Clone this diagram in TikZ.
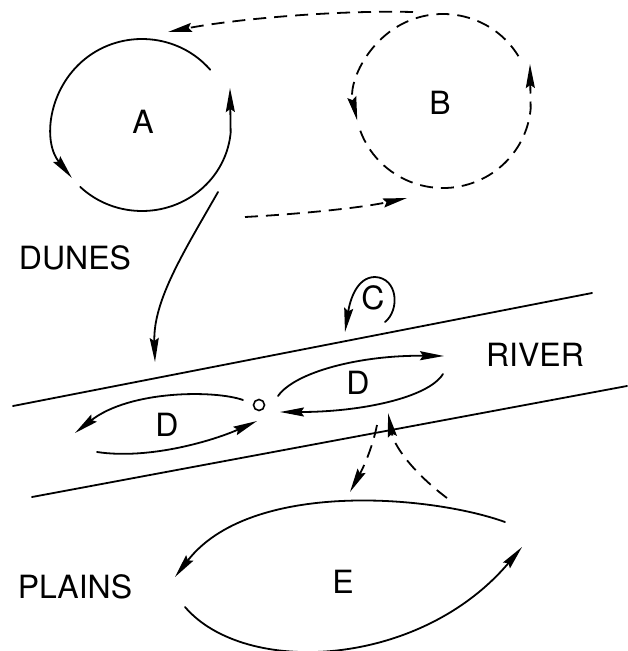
\documentclass[tikz,border=0pt]{standalone}
\usepackage{fontspec}
\setmainfont{TeX Gyre Heros}
\usetikzlibrary{arrows.meta}
\begin{document}
\begin{tikzpicture}[x=1pt,y=-1pt,
  ln/.style={line width=1.8pt, line cap=round},
  dsh/.style={line width=1.8pt, dash pattern=on 13pt off 8pt},
  arr/.style={-{Stealth[length=24pt,width=9pt,inset=3pt]}},
  lbl/.style={font=\fontsize{32}{32}\selectfont, inner sep=0pt}]
\useasboundingbox (0,0) rectangle (627,651);

% labels
\node[lbl] (lA) at (143,122) {A};
\node[lbl] (lB) at (440,103) {B};
\node[lbl] (lC) at (373,298) {C};
\node[lbl] (lD1) at (167,425) {D};
\node[lbl] (lD2) at (358,383) {D};
\node[lbl] (lE) at (343,582) {E};
\node[lbl] (dunes) at (75,258) {DUNES};
\node[lbl] (river) at (535,355) {RIVER};
\node[lbl] (plains) at (75,587) {PLAINS};
\node[circle, draw, line width=1.6pt, minimum size=11pt, inner sep=0pt] (o) at (259,405) {};

% circle A
\coordinate (cA) at (142,125);
\draw[ln,arr] (cA) ++(-40:89 and 86) arc[start angle=-40, end angle=-218, x radius=89, y radius=86];
\coordinate (Atip) at (230,88);
\draw[ln,arr] (cA) ++(-226:89 and 86) arc[start angle=-226, end angle=-355, x radius=89, y radius=86] -- (Atip);

% circle B (dashed)
\coordinate (cB) at (443,101);
\draw[dsh,arr] (cB) ++(-31:88 and 87) arc[start angle=-31, end angle=-193, x radius=88, y radius=87];
\coordinate (Btip) at (530,64);
\draw[dsh,arr] (cB) ++(-200:88 and 87) arc[start angle=-200, end angle=-355, x radius=88, y radius=87] -- (Btip);

% dashed transfers between A and B
\coordinate (ba0) at (413,12);
\coordinate (ba1) at (168,32);
\draw[dsh,arr] (ba0) .. controls (330,10) and (230,20) .. (ba1);
\coordinate (ab0) at (245,217);
\coordinate (ab1) at (407,198);
\draw[dsh,arr] (ab0) .. controls (300,214) and (360,208) .. (ab1);

% A to river
\coordinate (ar0) at (218,192);
\coordinate (ar1) at (155,362);
\draw[ln,arr] (ar0) .. controls (185,250) and (153,300) .. (ar1);

% river banks
\coordinate (u0) at (13,406);
\coordinate (u1) at (592,293);
\coordinate (w0) at (32,497);
\coordinate (w1) at (627,386);
\draw[ln] (u0) -- (u1);
\draw[ln] (w0) -- (w1);

% C loop
\coordinate (c0) at (385,322);
\coordinate (c1) at (345,332);
\draw[ln,arr] (c0) .. controls (400,310) and (398,278) .. (375,277)
  .. controls (357,277) and (350,300) .. (c1);

% right D
\coordinate (dr0) at (278,396);
\coordinate (dr1) at (444,356);
\draw[ln,arr] (dr0) .. controls (295,372) and (360,355) .. (dr1);
\coordinate (dr2) at (443,374);
\coordinate (dr3) at (280,412);
\draw[ln,arr] (dr2) .. controls (428,398) and (360,412) .. (dr3);

% left D
\coordinate (dl0) at (243,400);
\coordinate (dl1) at (75,433);
\draw[ln,arr] (dl0) .. controls (215,390) and (130,390) .. (dl1);
\coordinate (dl2) at (97,452);
\coordinate (dl3) at (257,421);
\draw[ln,arr] (dl2) .. controls (150,460) and (215,440) .. (dl3);

% river <-> plains
\coordinate (rp0) at (377,425);
\coordinate (rp1) at (350,492);
\draw[dsh,arr] (rp0) .. controls (372,450) and (362,470) .. (rp1);
\coordinate (pr0) at (447,498);
\coordinate (pr1) at (388,413);
\draw[dsh,arr] (pr0) .. controls (420,478) and (395,450) .. (pr1);

% E
\coordinate (e0) at (505,522);
\coordinate (e1) at (175,577);
\draw[ln,arr] (e0) .. controls (430,495) and (250,480) .. (e1);
\coordinate (e2) at (185,607);
\coordinate (e3) at (522,547);
\draw[ln,arr] (e2) .. controls (245,677) and (420,668) .. (e3);
\end{tikzpicture}
\end{document}
